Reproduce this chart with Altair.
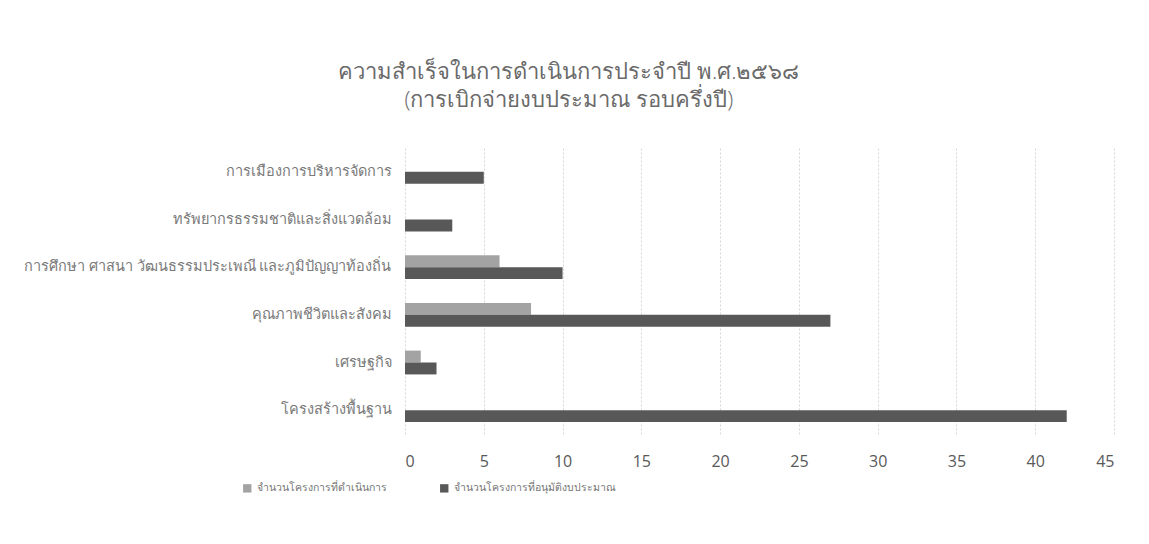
import altair as alt
import pandas as pd

categories = [
    "การเมืองการบริหารจัดการ",
    "ทรัพยากรธรรมชาติและสิ่งแวดล้อม",
    "การศึกษา ศาสนา วัฒนธรรมประเพณี และภูมิปัญญาท้องถิ่น",
    "คุณภาพชีวิตและสังคม",
    "เศรษฐกิจ",
    "โครงสร้างพื้นฐาน",
]
series_names = ["จำนวนโครงการที่ดำเนินการ", "จำนวนโครงการที่อนุมัติงบประมาณ"]
done_values = [0, 0, 6, 8, 1, 0]
approved_values = [5, 3, 10, 27, 2, 42]
colors = ["#a3a3a3", "#585858"]

rows = []
for c, d, a in zip(categories, done_values, approved_values):
    rows.append({"cat": c, "series": series_names[0], "value": d})
    rows.append({"cat": c, "series": series_names[1], "value": a})
df = pd.DataFrame(rows)

font = "Open Sans"
chart = alt.Chart(df).mark_bar().encode(
    y=alt.Y("cat:N", sort=categories, title=None,
            scale=alt.Scale(paddingInner=0.5, paddingOuter=0.25),
            axis=alt.Axis(labelFontSize=14.5, labelColor="#7a7a7a", labelPadding=14,
                          ticks=False, domain=False, labelLimit=420, labelFont=font)),
    yOffset=alt.YOffset("series:N", sort=series_names),
    x=alt.X("value:Q", title=None,
            scale=alt.Scale(domain=[0, 45], nice=False),
            axis=alt.Axis(values=list(range(0, 46, 5)), labelFontSize=16, labelColor="#595959",
                          labelPadding=19, ticks=False, domain=False, gridColor="#d6d6d6",
                          gridDash=[2, 2], labelFont=font)),
    color=alt.Color("series:N", sort=series_names,
                    scale=alt.Scale(domain=series_names, range=colors),
                    legend=alt.Legend(title=None, orient="none", legendX=-163, legendY=335,
                                      direction="horizontal", symbolType="square", symbolSize=70,
                                      labelFontSize=10.5, labelColor="#767676", columnPadding=52,
                                      labelLimit=300, symbolStrokeWidth=0, labelFont=font)),
).properties(
    width=709, height=286,
    title=alt.Title(["ความสำเร็จในการดำเนินการประจำปี พ.ศ.๒๕๖๘", "(การเบิกจ่ายงบประมาณ รอบครึ่งปี)"],
                    fontSize=22, fontWeight=300, color="#6a6a6a", anchor="middle",
                    frame="bounds", offset=36, lineHeight=28, font=font),
    autosize=alt.AutoSizeParams(type="none"),
    padding={"left": 397, "top": 140, "right": 20, "bottom": 100},
).configure_view(stroke=None)

chart.save("out.html", embed_options={"renderer": "svg", "actions": False})
